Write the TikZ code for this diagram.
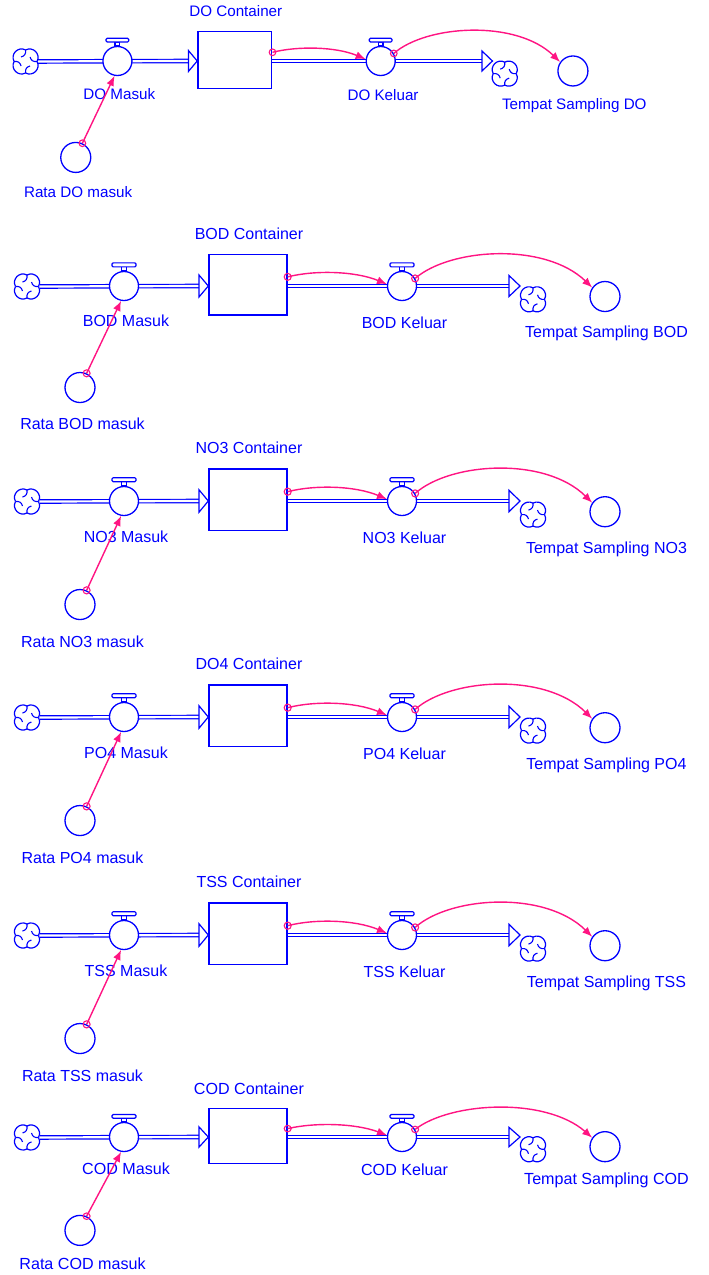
\documentclass[tikz,border=0pt]{standalone}
\usepackage{fontspec}
\setmainfont{Liberation Sans}
\usetikzlibrary{arrows.meta,calc}
\definecolor{fblue}{RGB}{0,0,255}
\definecolor{fpink}{RGB}{255,20,130}
\tikzset{
  lbl/.style={text=fblue, inner sep=0pt, anchor=base},
  valvenode/.style={circle, draw=fblue, fill=white, line width=1.3pt, minimum size=29pt, inner sep=0pt},
  auxnode/.style={circle, draw=fblue, fill=white, line width=1.3pt, minimum size=30pt, inner sep=0pt},
  stocknode/.style={rectangle, draw=fblue, line width=1.4pt, inner sep=0pt},
  pipe/.style={draw=fblue, line width=1.2pt, double=white, double distance=2.2pt},
  tri/.style={draw=fblue, line width=1.2pt, fill=white, line join=miter},
  handle/.style={draw=fblue, line width=1.2pt, fill=white},
  link/.style={draw=fpink, line width=1.4pt, -{Latex[length=10pt,width=8pt]}},
  origin/.style={draw=fpink, line width=1.1pt},
  cloudpic/.pic={
    \foreach \a in {0,90,180,270}{
      \draw[fblue, line width=1.2pt, rotate=\a] (0,-11.5) .. controls (7.4,-15.45) and (15.45,-7.4) .. (11.5,0);
      \draw[fblue, line width=1.1pt, rotate=\a] (0,-11.5) .. controls (0.5,-7.5) and (-1,-5.5) .. (-4.5,-4.5);
    }
  }
}
\newcommand\FlowSec[7]{%
\begin{scope}[shift={(0,#4)}, xscale=#5, yscale=#6, every node/.append style={font=\fontsize{#7}{18}\selectfont}]
  \coordinate (#1src) at (27,0.5);
  \coordinate (#1ain) at (199,0);
  \coordinate (#1aout) at (509,0);
  \coordinate (#1snk) at (533,13.3);
  \coordinate (#1c1) at (315,-16);
  \coordinate (#1c2) at (355,-15);
  \coordinate (#1c3) at (450,-38);
  \coordinate (#1c4) at (545,-44);
  \node[stocknode, minimum width=#5*78pt, minimum height=#6*60.3pt] (#1stock) at (248,-1.15) {};
  \draw[pipe] ([xshift=13pt]#1src) -- (#1ain);
  \draw[pipe] (#1stock.east |- #1aout) -- (#1aout);
  \draw[tri] ([yshift=11pt]#1ain) -- (#1stock.west |- #1ain) -- ([yshift=-11pt]#1ain) -- cycle;
  \draw[tri] ([yshift=10.5pt]#1aout) -- ([xshift=11pt]#1aout) -- ([yshift=-10.5pt]#1aout) -- cycle;
  \pic at (#1src) {cloudpic};
  \pic at (#1snk) {cloudpic};
  \node[valvenode] (#1vin) at (124,0) {};
  \node[valvenode] (#1vout) at (402,0) {};
  \draw[handle] ([xshift=-2.5pt]#1vin.north) rectangle ([xshift=2.5pt,yshift=4pt]#1vin.north);
  \draw[handle, rounded corners=1.2pt] ([xshift=-12pt,yshift=4pt]#1vin.north) rectangle ([xshift=12pt,yshift=8pt]#1vin.north);
  \draw[handle] ([xshift=-2.5pt]#1vout.north) rectangle ([xshift=2.5pt,yshift=4pt]#1vout.north);
  \draw[handle, rounded corners=1.2pt] ([xshift=-12pt,yshift=4pt]#1vout.north) rectangle ([xshift=12pt,yshift=8pt]#1vout.north);
  \node[auxnode] (#1tmp) at (605,10.5) {};
  \node[auxnode] (#1rata) at (80,101.5) {};
  \node[lbl] (#1lc) at (249,-46.5) {#3};
  \node[lbl] (#1lin) at (126,40.5) {#2 Masuk};
  \node[lbl] (#1lr) at (82.5,143.5) {Rata #2 masuk};
  \node[lbl] (#1lout) at (404.5,42) {#2 Keluar};
  \node[lbl] (#1lt) at (606.5,51.5) {Tempat Sampling #2};
  \draw[link] (#1rata.65) -- (#1vin.259);
  \draw[origin] (#1rata.65) circle[radius=3.5];
  \draw[link] ([yshift=8pt]#1stock.east) .. controls (#1c1) and (#1c2) .. (#1vout.173);
  \draw[origin] ([yshift=8pt]#1stock.east) circle[radius=3.5];
  \draw[link] (#1vout.30) .. controls (#1c3) and (#1c4) .. (#1tmp.145);
  \draw[origin] (#1vout.30) circle[radius=3.5];
\end{scope}}
\begin{document}
\begin{tikzpicture}[x=1pt,y=-1pt]
  \useasboundingbox (0,0) rectangle (709,1275);
  \FlowSec{a}{DO}{DO Container}{61}{0.947}{0.95}{15.2}
  \FlowSec{b}{BOD}{BOD Container}{286}{1}{1}{16}
  \FlowSec{c}{NO3}{NO3 Container}{501}{1}{1.02}{16}
  \FlowSec{d}{PO4}{DO4 Container}{717}{1}{1.02}{16}
  \FlowSec{e}{TSS}{TSS Container}{935}{1}{1.02}{16}
  \FlowSec{f}{COD}{COD Container}{1137}{1}{0.92}{16.1}
\end{tikzpicture}
\end{document}
